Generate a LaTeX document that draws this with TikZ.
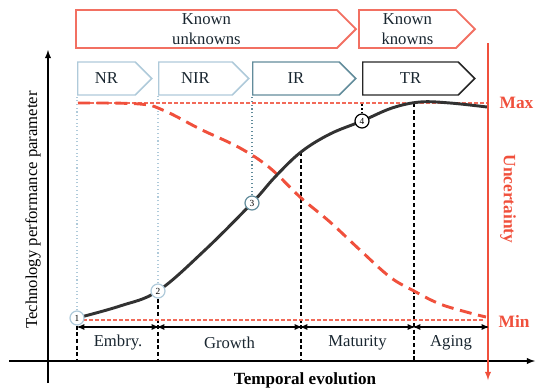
\documentclass[tikz,border=0pt]{standalone}
\usepackage{fontspec}
\setmainfont{Liberation Serif}
\usepackage{xcolor}
\usetikzlibrary{arrows,shapes,calc,backgrounds,positioning}

\definecolor{uncred}{RGB}{240,80,60}
\definecolor{knowred}{RGB}{242,112,98}
\definecolor{paleblue}{RGB}{175,202,218}
\definecolor{tealgray}{RGB}{98,140,155}
\definecolor{curvegray}{RGB}{50,50,50}
\definecolor{inkblue}{RGB}{25,38,48}

\begin{document}
\begin{tikzpicture}[x=0.75pt,y=-0.75pt,
knownbox/.style={signal, signal to=east, signal from=nowhere, draw=knowred, line width=1.4pt, minimum height=28.5pt, align=center, inner sep=1pt, font=\fontsize{12.5}{15}\selectfont, text=inkblue},
readybox/.style={signal, signal to=east, signal from=nowhere, line width=1.1pt, minimum height=24.75pt, font=\fontsize{12.5}{15}\selectfont, text=inkblue},
milestone/.style={circle, draw, fill=white, line width=0.9pt, inner sep=0pt, minimum size=10.5pt, font=\fontsize{7}{7}\selectfont},
phase/.style={font=\fontsize{12.5}{15}\selectfont, text=inkblue},
bound/.style={dash pattern=on 3pt off 1.5pt, draw=uncred!85, line width=1.1pt},
tick/.style={dash pattern=on 3pt off 2pt, line width=0.9pt},
guide/.style={dotted, draw=paleblue, line width=0.8pt},
redlbl/.style={text=uncred, font=\fontsize{13}{15}\selectfont\bfseries}
]
\useasboundingbox (0,0) rectangle (537,390);

% Knowledge boxes
\node[knownbox, minimum width=210pt, anchor=west] (ku) at (75,29) {Known\\unknowns};
\node[knownbox, minimum width=87pt, anchor=west]  (kk) at (358,29) {Known\\knowns};

% Readiness boxes
\node[readybox, draw=paleblue, minimum width=55.5pt, anchor=west]  (nr)  at (77,78.5)  {NR};
\node[readybox, draw=paleblue, minimum width=67.5pt, anchor=west]  (nir) at (158,78.5) {NIR};
\node[readybox, draw=tealgray, minimum width=77.25pt, anchor=west] (ir)  at (252,78.5) {IR};
\node[readybox, draw=black!85, minimum width=84pt, anchor=west]    (tr)  at (362,78.5) {TR};

% Milestones
\node[milestone, draw=paleblue] (c1) at (77,318)  {1};
\node[milestone, draw=paleblue] (c2) at (158,291) {2};
\node[milestone, draw=tealgray] (c3) at (252,203) {3};
\node[milestone, draw=black]    (c4) at (362,121) {4};

% Axes and bounds
\coordinate (yb) at (48,383);
\coordinate (yt) at (48,50);
\coordinate (xl) at (9,361);
\coordinate (xr) at (535,361);
\coordinate (maxl) at (78,103);
\coordinate (maxr) at (488,103);
\coordinate (minl) at (83,320);
\coordinate (minr) at (485,320);
\coordinate (ut) at (488,43);
\coordinate (ub) at (488,380);
\coordinate (m3) at (301,152);
\coordinate (m4) at (414,103);

% Phases
\coordinate (p0) at (78,327);
\coordinate (p1) at (158,327);
\coordinate (p2) at (301,327);
\coordinate (p3) at (414,327);
\coordinate (p4) at (488,327);

%Labels
\node[redlbl, anchor=west] (maxlbl) at (495,103) {Max};
\node[redlbl, anchor=west] (minlbl) at (494,321) {Min};
\node[redlbl, rotate=-90]  (unc)    at (508,199) {Uncertainty};
\node[phase, text=black, rotate=90] (ylbl) at (33,210) {Technology performance parameter};
\node[font=\fontsize{12.8}{15}\selectfont\bfseries] (xlbl) at (305,380) {Temporal evolution};

\node[phase] (embry)  at ($(p0)!0.5!(p1)+(0,16)$) {Embry.};
\node[phase] (growth) at ($(p1)!0.5!(p2)+(0,16)$) {Growth};
\node[phase] (matur)  at ($(p2)!0.5!(p3)+(0,16)$) {Maturity};
\node[phase] (aging)  at ($(p3)!0.5!(p4)+(0,16)$) {Aging};

\begin{scope}[on background layer]
%Guides
\draw[guide] (c1.north) -- (c1 |- nr.south);
\draw[guide] (c2.north) -- (c2 |- nir.south);
\draw[guide, draw=tealgray] (c3.north) -- (c3 |- ir.south);
\draw[dotted, line width=0.9pt] (c4.north) -- (c4 |- maxl);
\draw[tick] (c1.south) -- (c1 |- xl);
\draw[tick] (c2.south) -- (c2 |- xl);
\draw[tick] (m3) -- (m3 |- xl);
\draw[tick] (m4) -- (m4 |- xl);
%Bounds
\draw[bound] (maxl) -- (maxr);
\draw[bound] (minl) -- (minr);
%Curves
\draw[uncred, line width=2.2pt, dash pattern=on 9pt off 5pt] plot[smooth, tension=0.6] coordinates {(78,103) (140,104) (165,111) (200,129) (240,148) (270,168) (300,197) (330,222) (360,250) (390,277) (414,291) (440,304) (470,313) (486,317)};
\draw[curvegray, line width=2.2pt] plot[smooth, tension=0.6] coordinates {(c1.center) (120,306) (c2.center) (205,250) (c3.center) (275,177) (m3) (330,134) (c4.center) (392,108) (420,102) (450,103) (487,107)};
\end{scope}

%Axes
\draw[-latex, line width=1.1pt] (yb) -- (yt);
\draw[-latex, line width=1.1pt] (xl) -- (xr);
\draw[-latex, uncred, line width=1.1pt] (ut) -- (ub);

%Phase arrows
\draw[<->, >=stealth', line width=0.8pt] (p0) -- (p1);
\draw[<->, >=stealth', line width=0.8pt] (p1) -- (p2);
\draw[<->, >=stealth', line width=0.8pt] (p2) -- (p3);
\draw[<->, >=stealth', line width=0.8pt] (p3) -- (p4);

\end{tikzpicture}
\end{document}
